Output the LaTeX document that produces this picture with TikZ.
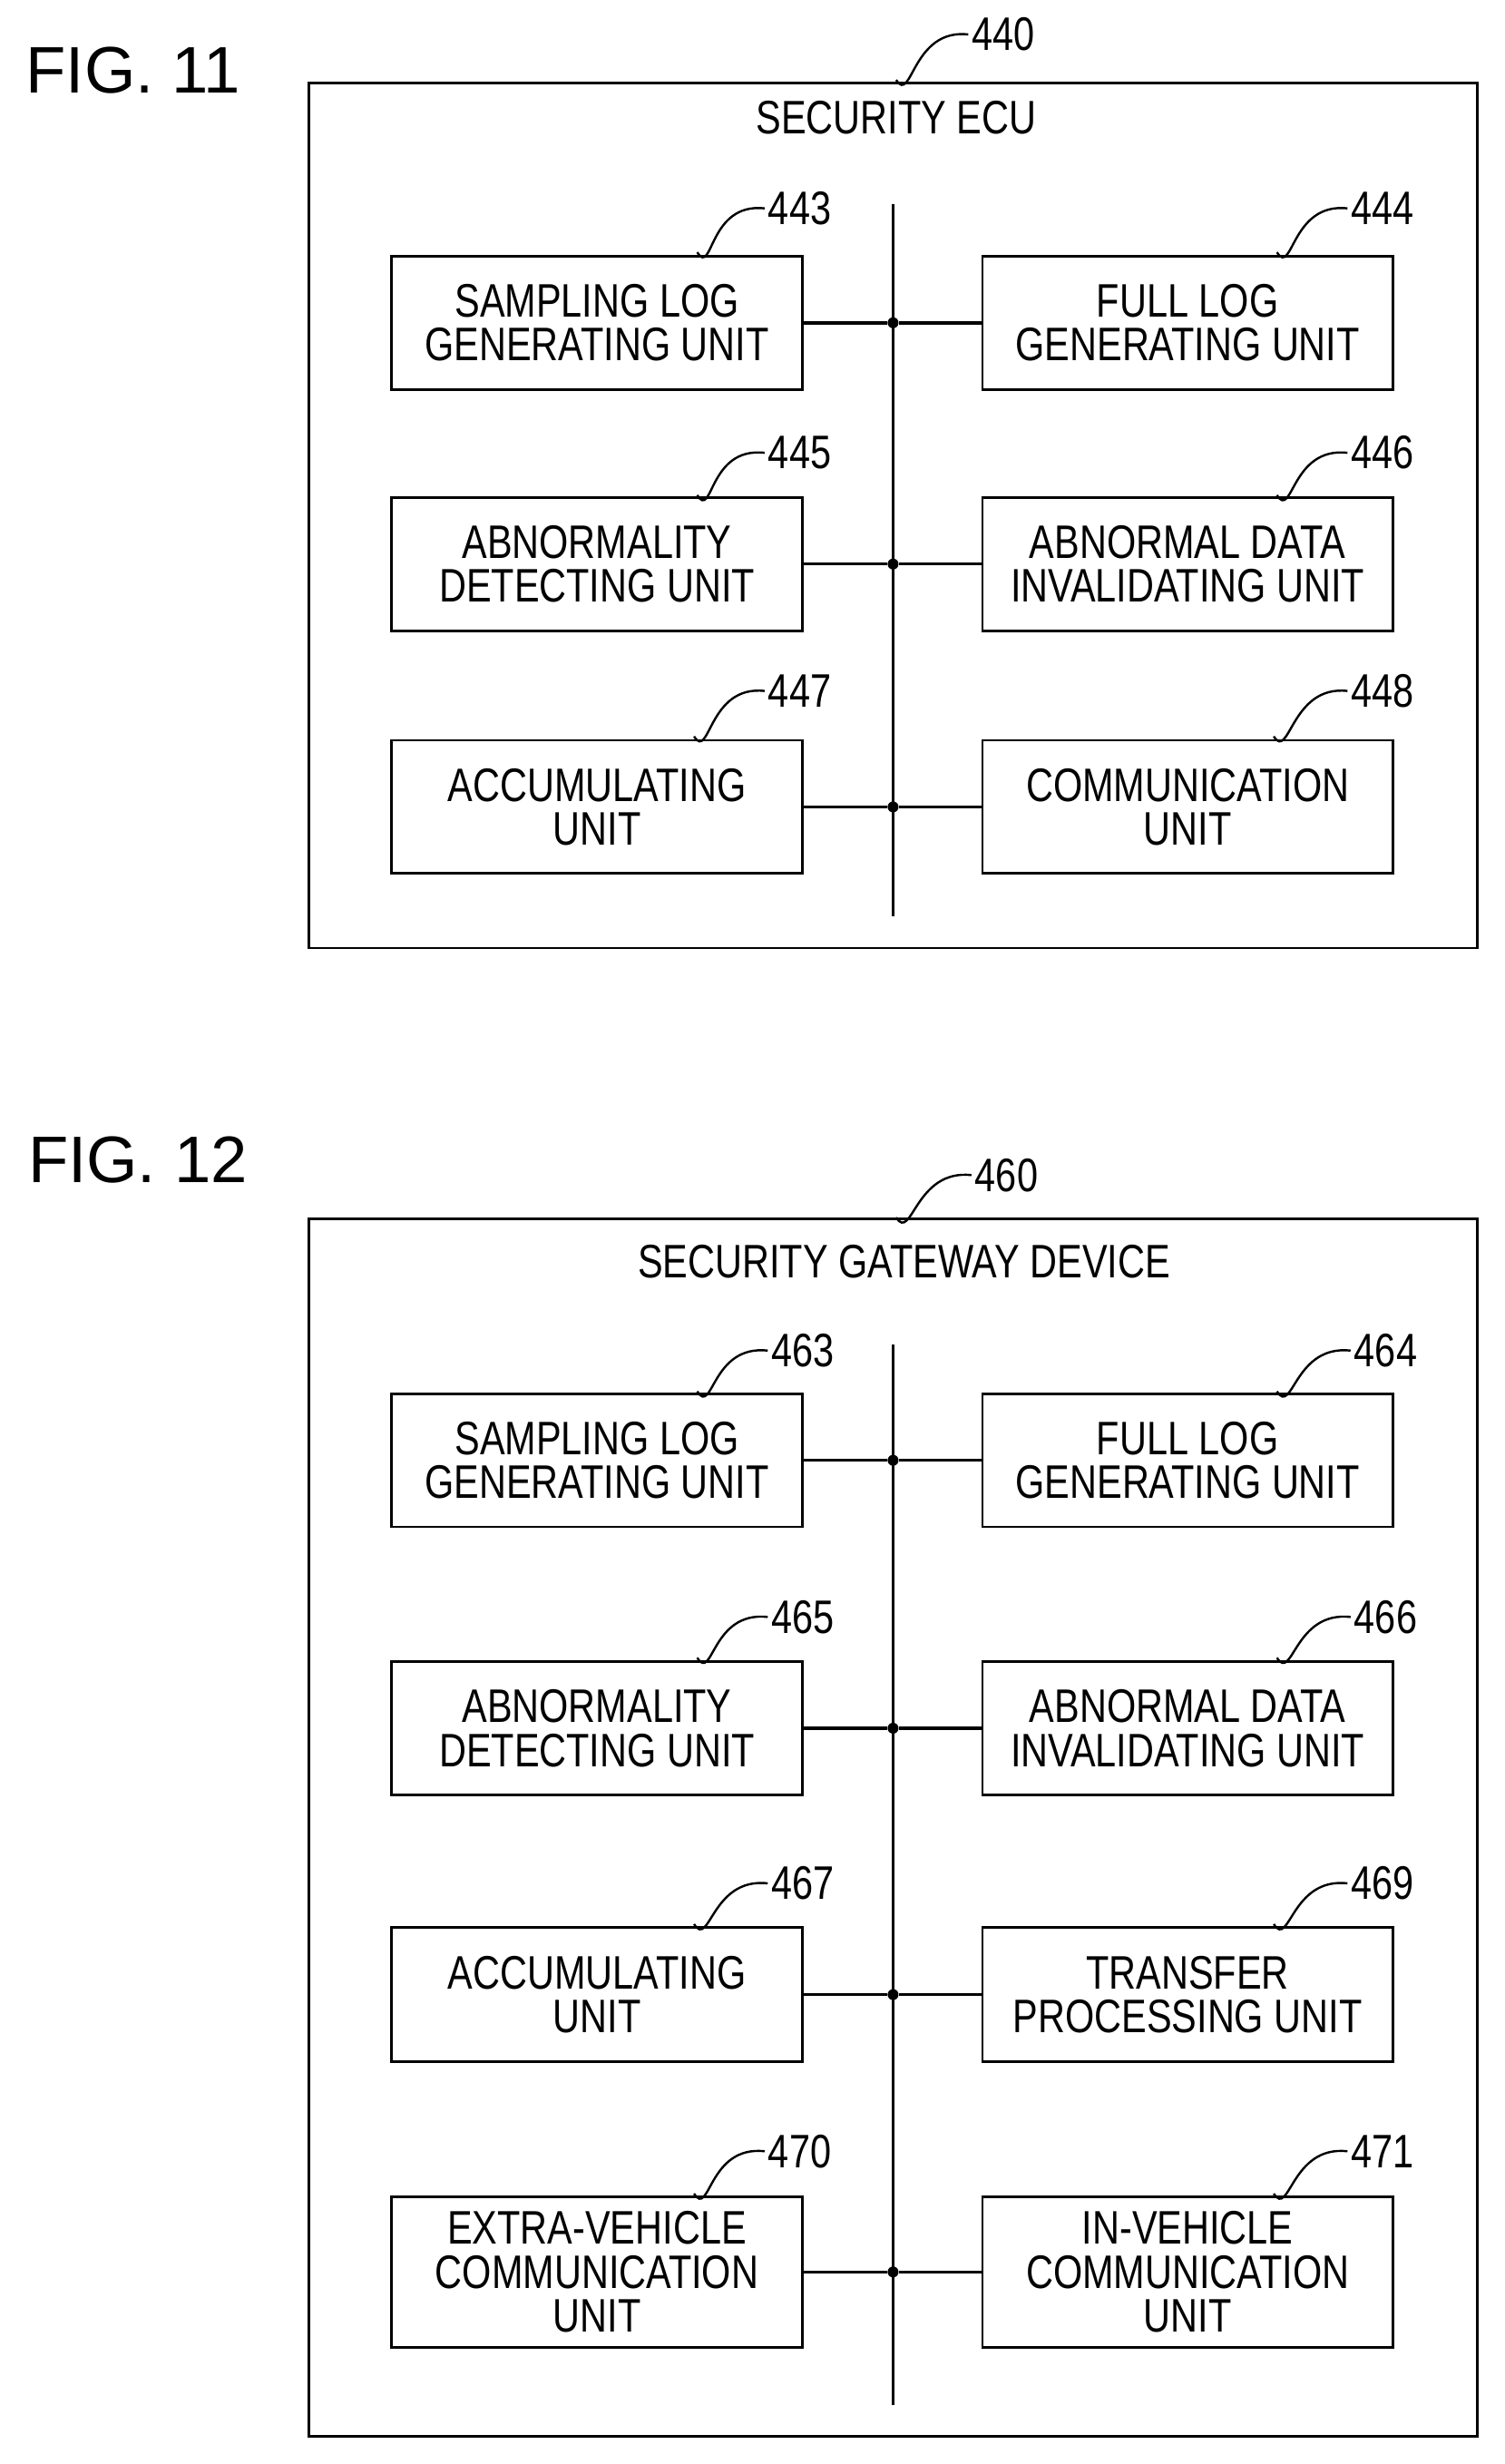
\documentclass[tikz,border=0pt]{standalone}
\usepackage{fontspec}
\setmainfont{Liberation Sans}
\newfontfamily\nar[FakeStretch=0.8]{Liberation Sans}
\begin{document}
\begin{tikzpicture}[x=0.5pt,y=-0.5pt,
  blk/.style={draw,line width=0.8pt,minimum width=#1,inner sep=0pt,font=\nar\fontsize{15}{14}\selectfont,align=center},
  blk/.default=130pt,
  lbl/.style={font=\nar\fontsize{15}{15}\selectfont,anchor=west,inner sep=1pt},
  fig/.style={font=\fontsize{21}{21}\selectfont},
  frame/.style={draw,line width=0.8pt},
  bus/.style={line width=1pt},
  dot/.style={circle,fill,inner sep=0pt,minimum size=3.5pt}]
\useasboundingbox (0,0) rectangle (960,1572.6);
\newcommand\lead[4]{% from (#1,#2) to label node name #3 at position #4
 \node[lbl] (#3) at #4 {#3};
 \coordinate (s#3) at (#1,#2);
 \draw[line width=0.7pt] (s#3) .. controls ([xshift=5pt,yshift=-8pt]s#3) and ([xshift=-18pt,yshift=2pt]#3.west) .. (#3.west);}
\newcommand\row[6]{% leftname lefttext rightname righttext y height
 \node[blk=131pt,minimum height=#6] (#1) at (381,#5) {#2};
 \node[blk=131pt,minimum height=#6] (#3) at (758,#5) {#4};
 \node[dot] (d#1) at (570,#5) {};
 \draw[bus] (#1.east) -- (d#1) -- (#3.west);}
% FIG 11
\node[fig] (f11) at (85,45) {FIG. 11};
\node[frame,minimum width=373pt,minimum height=276pt] (b440) at (570,329) {};
\node[font=\nar\fontsize{15}{15}\selectfont] (t440) at (572,75) {SECURITY ECU};
\lead{572}{51}{440}{(618,22)}
\coordinate (bt1) at (570,130); \coordinate (bb1) at (570,585);
\draw[bus] (bt1) -- (bb1);
\row{b443}{SAMPLING LOG\\GENERATING UNIT}{b444}{FULL LOG\\GENERATING UNIT}{206}{42.5pt}
\row{b445}{ABNORMALITY\\DETECTING UNIT}{b446}{ABNORMAL DATA\\INVALIDATING UNIT}{360}{42.5pt}
\row{b447}{ACCUMULATING\\UNIT}{b448}{COMMUNICATION\\UNIT}{515}{42.5pt}
\lead{445}{161}{443}{(488,133)}
\lead{815}{161}{444}{(860,133)}
\lead{445}{316}{445}{(488,289)}
\lead{815}{316}{446}{(860,289)}
\lead{443}{470}{447}{(488,441)}
\lead{813}{470}{448}{(860,441)}
% FIG 12
\node[fig] (f12) at (88,740) {FIG. 12};
\node[frame,minimum width=373pt,minimum height=388.5pt] (b460) at (570,1166.5) {};
\node[font=\nar\fontsize{15}{15}\selectfont] (t460) at (577,805) {SECURITY GATEWAY DEVICE};
\lead{572}{777}{460}{(620,750)}
\coordinate (bt2) at (570,858); \coordinate (bb2) at (570,1535);
\draw[bus] (bt2) -- (bb2);
\row{b463}{SAMPLING LOG\\GENERATING UNIT}{b464}{FULL LOG\\GENERATING UNIT}{932}{42.5pt}
\row{b465}{ABNORMALITY\\DETECTING UNIT}{b466}{ABNORMAL DATA\\INVALIDATING UNIT}{1103}{42.5pt}
\row{b467}{ACCUMULATING\\UNIT}{b469}{TRANSFER\\PROCESSING UNIT}{1273}{43pt}
\row{b470}{EXTRA-VEHICLE\\COMMUNICATION\\UNIT}{b471}{IN-VEHICLE\\COMMUNICATION\\UNIT}{1450}{48pt}
\lead{445}{888}{463}{(490,862)}
\lead{815}{888}{464}{(862,862)}
\lead{445}{1058}{465}{(490,1032)}
\lead{815}{1058}{466}{(862,1032)}
\lead{443}{1228}{467}{(490,1202)}
\lead{813}{1228}{469}{(860,1202)}
\lead{443}{1400}{470}{(488,1373)}
\lead{813}{1400}{471}{(860,1373)}
\end{tikzpicture}
\end{document}
